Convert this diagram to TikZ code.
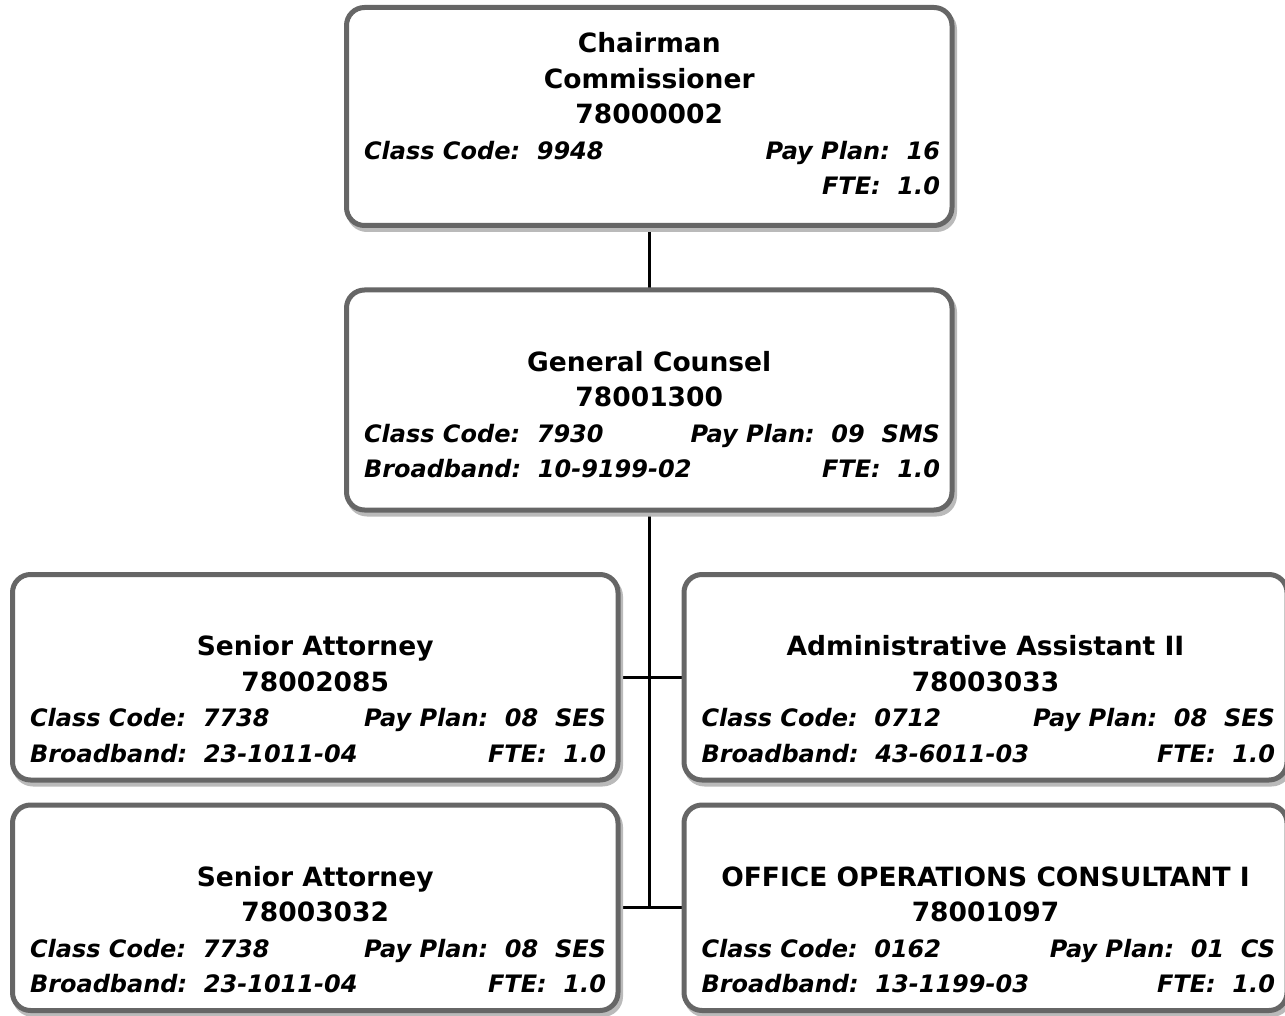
\documentclass[tikz,border=0pt]{standalone}
\usepackage{fontspec}
\setmainfont{DejaVu Sans}
\usetikzlibrary{backgrounds}
\newcommand\boxbody[3]{\vbox to #2{\hsize=#1\relax\baselineskip=35.5pt\lineskiplimit=-100pt\relax
  \vskip10pt\hbox{}#3\vss}}
\newcommand\tline[1]{\hbox to\hsize{\hss\fontsize{26.5}{30}\selectfont\bfseries #1\hss}}
\newcommand\dline[2]{\hbox to\hsize{\hskip17.5pt\fontsize{24}{28}\selectfont\bfseries\itshape #1\hfil #2\hskip12pt}}
\newcommand\blankline{\hbox{}}
\begin{document}
\begin{tikzpicture}[x=1pt,y=-1pt,
  orgbox/.style={rectangle, rounded corners=18pt, draw=black!60, line width=5pt,
    fill=white, inner sep=0pt, outer sep=0pt,
    preaction={draw=black!27, line width=5pt, transform canvas={shift={(2.5pt,-4pt)}}}},
  conn/.style={line width=3pt, draw=black}]
\useasboundingbox (0,0) rectangle (1285,1016);

\node[orgbox] (B1) at (649.25,116.5) {\boxbody{605.5pt}{218pt}{%
  \tline{Chairman}
  \tline{Commissioner}
  \tline{78000002}
  \dline{Class Code:\ \ 9948}{Pay Plan:\ \ 16}
  \dline{}{FTE:\ \ 1.0}}};

\node[orgbox] (B2) at (649.25,400) {\boxbody{605.5pt}{220pt}{%
  \blankline
  \tline{General Counsel}
  \tline{78001300}
  \dline{Class Code:\ \ 7930}{Pay Plan:\ \ 09\ \ SMS}
  \dline{Broadband:\ \ 10-9199-02}{FTE:\ \ 1.0}}};

\node[orgbox] (L1) at (315.25,677.25) {\boxbody{605.5pt}{205.5pt}{%
  \blankline
  \tline{Senior Attorney}
  \tline{78002085}
  \dline{Class Code:\ \ 7738}{Pay Plan:\ \ 08\ \ SES}
  \dline{Broadband:\ \ 23-1011-04}{FTE:\ \ 1.0}}};

\node[orgbox] (R1) at (985.5,677.25) {\boxbody{603pt}{205.5pt}{%
  \blankline
  \tline{Administrative Assistant II}
  \tline{78003033}
  \dline{Class Code:\ \ 0712}{Pay Plan:\ \ 08\ \ SES}
  \dline{Broadband:\ \ 43-6011-03}{FTE:\ \ 1.0}}};

\node[orgbox] (L2) at (315.25,907.75) {\boxbody{605.5pt}{205.5pt}{%
  \blankline
  \tline{Senior Attorney}
  \tline{78003032}
  \dline{Class Code:\ \ 7738}{Pay Plan:\ \ 08\ \ SES}
  \dline{Broadband:\ \ 23-1011-04}{FTE:\ \ 1.0}}};

\node[orgbox] (R2) at (985.5,907.75) {\boxbody{603pt}{205.5pt}{%
  \blankline
  \tline{OFFICE OPERATIONS CONSULTANT I}
  \tline{78001097}
  \dline{Class Code:\ \ 0162}{Pay Plan:\ \ 01\ \ CS}
  \dline{Broadband:\ \ 13-1199-03}{FTE:\ \ 1.0}}};

\begin{scope}[on background layer]
  \draw[conn] (B1.south) -- (B2.north);
  \draw[conn] (B2.south) -- (B2.south |- L2.east);
  \draw[conn] (L1.east) -- (R1.west);
  \draw[conn] (L2.east) -- (R2.west);
\end{scope}
\end{tikzpicture}
\end{document}
